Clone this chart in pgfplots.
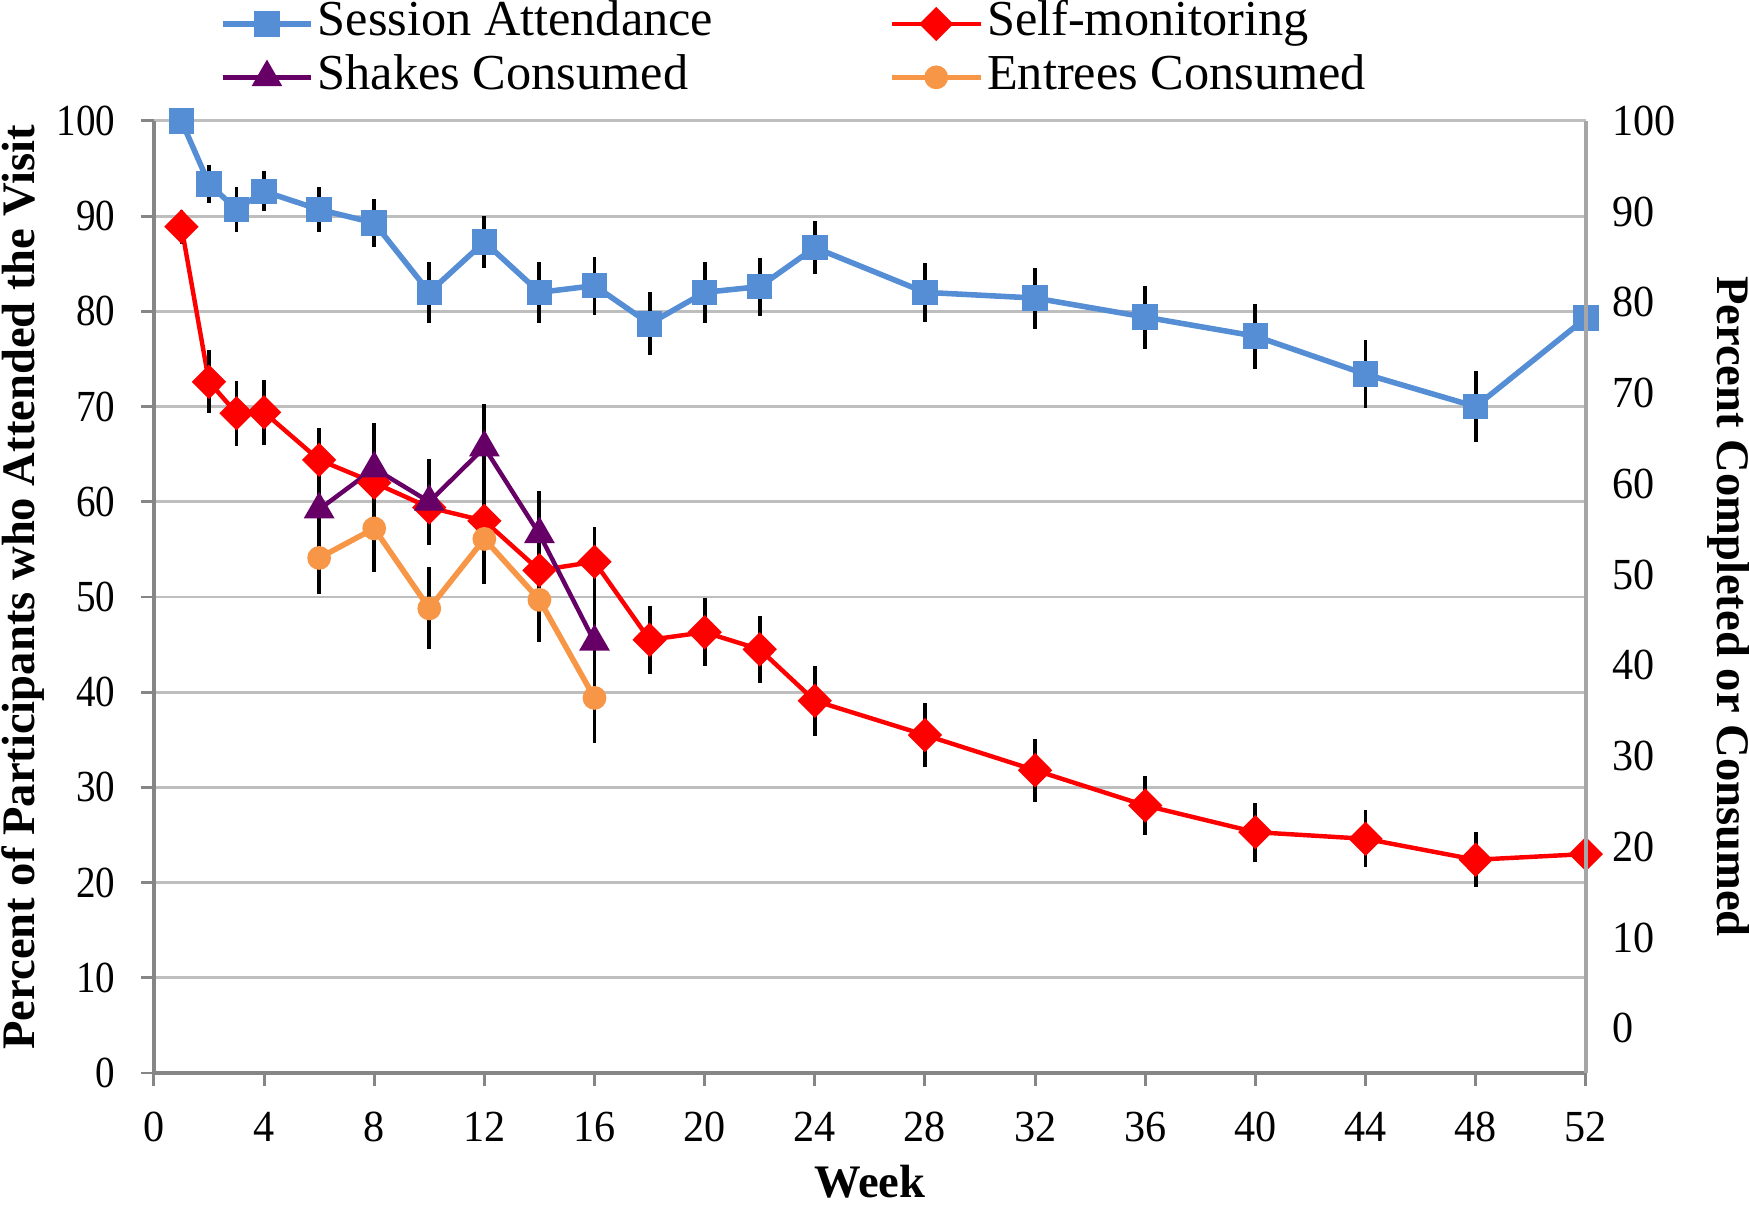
\documentclass[border=0pt]{standalone}
\usepackage{fontspec}
\setmainfont{Liberation Serif}
\usepackage{pgfplots}
\pgfplotsset{compat=1.18}
\definecolor{sessblue}{RGB}{85,142,213}
\definecolor{smred}{RGB}{255,0,0}
\definecolor{shakepurple}{RGB}{102,0,102}
\definecolor{entorange}{RGB}{247,150,70}
\definecolor{gridgray}{RGB}{190,190,190}
\definecolor{axgray}{RGB}{134,134,134}

\begin{document}
\begin{tikzpicture}
% picture frame: axis box is 387pt x 257.3pt with its lower left corner at (0,0)
\useasboundingbox (-41.6pt,-35.9pt) rectangle (431.1pt,290pt);
\pgfplotsset{
  every axis/.append style={
    scale only axis, width=387pt, height=257.3pt,
    xmin=0, xmax=52,
    /pgf/number format/assume math mode=true,
    tick label style={font=\fontsize{12}{14}\selectfont},
    label style={font=\fontsize{12.6}{15}\selectfont\bfseries, inner sep=0pt},
  },
  ebar/.style={error bars/.cd, y dir=both, y explicit, error mark=none,
    error bar style={black, line width=1.05pt}},
}
% main axis (left)
\begin{axis}[
  ymin=0, ymax=100,
  xtick={0,4,...,52}, ytick={0,10,...,100},
  axis x line*=bottom, axis y line*=left,
  axis line style={-, axgray, line width=0.9pt},
  tick align=outside, major tick length=3.5pt,
  tick style={axgray, line width=0.8pt},
  ymajorgrids=true, grid style={gridgray, line width=0.8pt},
  yticklabel style={xscale=0.88, anchor=east, xshift=-4.4pt},
  xticklabel style={xscale=0.95, anchor=base, yshift=-15pt},
  xlabel={Week}, ylabel={Percent of Participants who Attended the Visit},
  xlabel style={at={(axis description cs:0.5,-0.131)}, anchor=base},
  ylabel style={at={(axis description cs:-0.0915,0.51)}, anchor=center},
  legend columns=2, legend cell align=left,
  legend style={draw=none, fill=none, inner sep=0pt,
    font=\fontsize{13.6}{15}\selectfont,
    nodes={inner sep=1pt, text height=9.4pt, text depth=3pt},
    at={(rel axis cs:0,1)}, anchor=north west, xshift=17.6pt, yshift=33.6pt,
    /tikz/every even column/.append style={column sep=46.5pt}},
  legend image code/.code={\draw[mark repeat=2,mark phase=2,#1]
    plot coordinates {(0pt,0pt) (12pt,0pt) (24pt,0pt)};},
  clip=false,
]
\addplot[sessblue, line width=1.5pt, mark=square*, mark size=2.7pt,
  mark options={solid, fill=sessblue}, ebar] coordinates {
  (1,100) +- (0,0)
  (2,93.4) +- (0,2.0)
  (3,90.7) +- (0,2.4)
  (4,92.6) +- (0,2.1)
  (6,90.7) +- (0,2.4)
  (8,89.3) +- (0,2.5)
  (10,82.0) +- (0,3.2)
  (12,87.3) +- (0,2.7)
  (14,82.0) +- (0,3.2)
  (16,82.7) +- (0,3.05)
  (18,78.7) +- (0,3.3)
  (20,82.0) +- (0,3.2)
  (22,82.6) +- (0,3.05)
  (24,86.7) +- (0,2.8)
  (28,82.0) +- (0,3.1)
  (32,81.4) +- (0,3.2)
  (36,79.4) +- (0,3.3)
  (40,77.4) +- (0,3.4)
  (44,73.4) +- (0,3.6)
  (48,70.0) +- (0,3.7)
  (52,79.3) +- (0,3.3)
};
\addlegendentry{Session Attendance}
\addplot[smred, line width=1.2pt, mark=diamond*, mark size=3.8pt,
  mark options={solid, fill=smred, xscale=1.33}, ebar] coordinates {
  (1,88.9) +- (0,1.8)
  (2,72.6) +- (0,3.3)
  (3,69.3) +- (0,3.4)
  (4,69.4) +- (0,3.4)
  (6,64.4) +- (0,3.4)
  (8,62.0) +- (0,3.5)
  (10,59.4) +- (0,3.5)
  (12,58.0) +- (0,3.5)
  (14,52.8) +- (0,3.5)
  (16,53.7) +- (0,3.6)
  (18,45.5) +- (0,3.6)
  (20,46.3) +- (0,3.6)
  (22,44.5) +- (0,3.55)
  (24,39.1) +- (0,3.7)
  (28,35.5) +- (0,3.4)
  (32,31.8) +- (0,3.3)
  (36,28.1) +- (0,3.1)
  (40,25.3) +- (0,3.1)
  (44,24.6) +- (0,3.0)
  (48,22.4) +- (0,2.9)
  (52,23.0) +- (0,2.9)
};
\addlegendentry{Self-monitoring}
\addplot[shakepurple, line width=1.2pt, mark=triangle*, mark size=3.6pt,
  mark options={solid, fill=shakepurple}, ebar] coordinates {
  (6,59.2) +- (0,4.4)
  (8,63.5) +- (0,4.8)
  (10,60.0) +- (0,4.5)
  (12,65.7) +- (0,4.6)
  (14,56.6) +- (0,4.5)
  (16,45.3) +- (0,4.8)
};
\addlegendentry{Shakes Consumed}
\addplot[entorange, line width=1.5pt, mark=*, mark size=2.45pt,
  mark options={solid, fill=entorange}, ebar] coordinates {
  (6,54.1) +- (0,3.8)
  (8,57.2) +- (0,4.6)
  (10,48.8) +- (0,4.3)
  (12,56.1) +- (0,4.7)
  (14,49.7) +- (0,4.4)
  (16,39.4) +- (0,4.7)
};
\addlegendentry{Entrees Consumed}
\end{axis}
% secondary axis (right)
\begin{axis}[
  ymin=-4.94, ymax=100,
  hide x axis, axis y line*=right,
  axis line style={-, gray!70, line width=1pt},
  ytick={0,10,...,100}, major tick length=0pt,
  yticklabel style={xscale=0.95, anchor=west, xshift=4pt},
  ylabel={Percent Completed or Consumed},
  ylabel style={at={(axis description cs:1.0995,0.49)}, anchor=center, rotate=180},
]
\end{axis}
\end{tikzpicture}
\end{document}
